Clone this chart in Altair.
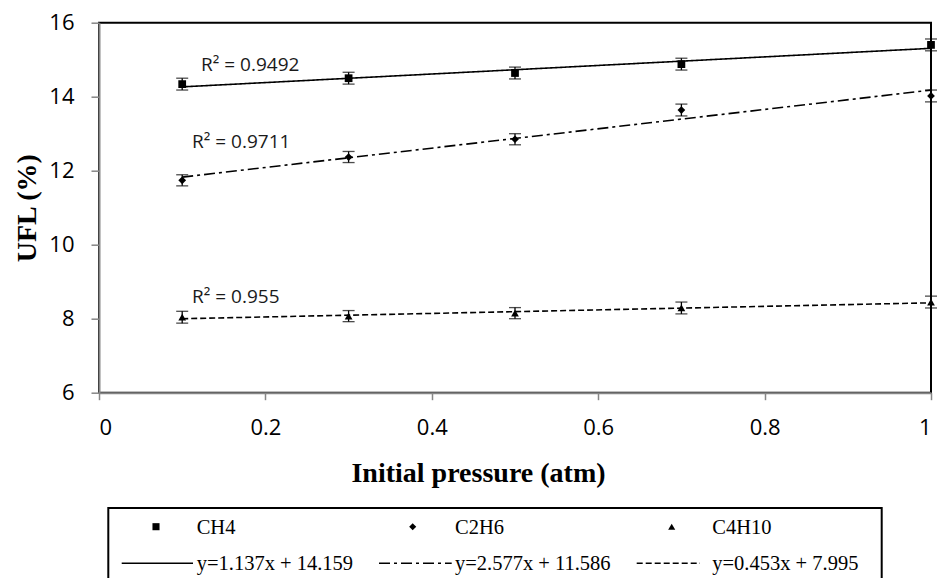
import altair as alt
import pandas as pd

# ---- data ----
pressure = [0.1, 0.3, 0.5, 0.7, 1.0]
ufl_ch4 = [14.34, 14.50, 14.64, 14.88, 15.40]
ufl_c2h6 = [11.74, 12.37, 12.85, 13.64, 14.02]
ufl_c4h10 = [8.04, 8.07, 8.15, 8.29, 8.45]
err_ch4 = [0.16, 0.16, 0.16, 0.16, 0.16]
err_c2h6 = [0.15, 0.15, 0.15, 0.16, 0.16]
err_c4h10 = [0.16, 0.15, 0.15, 0.16, 0.16]
gases = ["CH4", "C2H6", "C4H10"]
r2_labels = ["R\u00b2 = 0.9492", "R\u00b2 = 0.9711", "R\u00b2 = 0.955"]
fit_labels = ["y=1.137x + 14.159", "y=2.577x + 11.586", "y=0.453x + 7.995"]
x_ticks = [0, 0.2, 0.4, 0.6, 0.8, 1]
y_ticks = [6, 8, 10, 12, 14, 16]

rows = []
for g, ys, es in zip(gases, [ufl_ch4, ufl_c2h6, ufl_c4h10], [err_ch4, err_c2h6, err_c4h10]):
    for p, y, e in zip(pressure, ys, es):
        rows.append({"gas": g, "p": p, "ufl": y, "lo": y - e, "hi": y + e})
df = pd.DataFrame(rows)

W, H = 832, 370
LEFT, TOP = 99, 22.7

AX_GRAY = "#868686"
SANS = "Open Sans"
SERIF = "Liberation Serif"

x_axis = alt.Axis(values=x_ticks, title="Initial pressure (atm)", labelExpr="'' + datum.value",
                  grid=False)
y_axis = alt.Axis(values=y_ticks, title="UFL (%)", grid=False)


def X(field):
    return alt.X(f"{field}:Q", scale=alt.Scale(domain=[0, 1]), axis=x_axis)


def Y(field):
    return alt.Y(f"{field}:Q", scale=alt.Scale(domain=[6, 16]), axis=y_axis)


base = alt.Chart(df)

shape_scale = alt.Scale(domain=gases, range=["square", "diamond", "triangle-up"])
dash_scale = alt.Scale(domain=gases, range=[[1, 0], [11, 4, 3, 4], [6, 3]])

trend = base.transform_regression("p", "ufl", groupby=["gas"]).mark_line(
    color="black", strokeWidth=1.6
).encode(
    x=X("p"), y=Y("ufl"),
    strokeDash=alt.StrokeDash("gas:N", scale=dash_scale, legend=None),
    detail="gas:N",
)

err_rule = base.mark_rule(color="black", strokeWidth=1.3).encode(
    x=X("p"), y=Y("lo"), y2="hi:Q"
)
err_lo = base.mark_tick(color="black", orient="horizontal", size=12, thickness=1.3).encode(
    x=X("p"), y=Y("lo")
)
err_hi = base.mark_tick(color="black", orient="horizontal", size=12, thickness=1.3).encode(
    x=X("p"), y=Y("hi")
)

pts = base.mark_point(filled=True, color="black", opacity=1, size=60).encode(
    x=X("p"), y=Y("ufl"),
    shape=alt.Shape("gas:N", scale=shape_scale, legend=None),
)

one = alt.Data(values=[{}])

layers = [trend, err_rule, err_lo, err_hi, pts]

# R² annotations (pixel positions relative to plot area)
r2_pos = [(102, 42.3), (93, 119), (93, 274)]
for lab, (px, py) in zip(r2_labels, r2_pos):
    layers.append(
        alt.Chart(one).mark_text(text=lab, font=SANS, fontSize=19, color="#1a1a1a",
                                 align="left", baseline="middle")
        .encode(x=alt.value(px), y=alt.value(py))
    )

# ---- custom legend box below the plot ----
layers.append(
    alt.Chart(one).mark_rect(fill=None, stroke="black", strokeWidth=2).encode(
        x=alt.value(9.3), x2=alt.value(782.7), y=alt.value(485.3), y2=alt.value(620)
    )
)
sym_x = [57, 313.7, 572.7]
sym_shapes = ["square", "diamond", "triangle-up"]
txt_x = [97.7, 356, 613.3]
row1_y = 504
row2_y = 540.6
for g, sx, shp, tx in zip(gases, sym_x, sym_shapes, txt_x):
    layers.append(
        alt.Chart(one).mark_point(shape=shp, filled=True, color="black", opacity=1, size=50)
        .encode(x=alt.value(sx), y=alt.value(row1_y))
    )
    layers.append(
        alt.Chart(one).mark_text(text=g, font=SERIF, fontSize=20.5, color="black",
                                 align="left", baseline="middle")
        .encode(x=alt.value(tx), y=alt.value(row1_y + 1))
    )
line_x = [(22.7, 94), (280, 352.7), (537.7, 601)]
dashes = [[1, 0], [11, 4, 3, 4], [6, 3]]
for lab, (x1, x2), d, tx in zip(fit_labels, line_x, dashes, txt_x):
    layers.append(
        alt.Chart(one).mark_rule(color="black", strokeWidth=1.6, strokeDash=d)
        .encode(x=alt.value(x1), x2=alt.value(x2), y=alt.value(row2_y))
    )
    layers.append(
        alt.Chart(one).mark_text(text=lab, font=SERIF, fontSize=20.5, color="black",
                                 align="left", baseline="middle")
        .encode(x=alt.value(tx), y=alt.value(row2_y + 1))
    )

chart = alt.layer(*layers).properties(
    width=W, height=H,
    autosize=alt.AutoSizeParams(type="none"),
    padding={"left": LEFT, "top": TOP, "right": 940 - LEFT - W, "bottom": 578 - TOP - H},
    background="white",
).configure_view(
    stroke="black", strokeWidth=2
).configure_axis(
    domainColor=AX_GRAY, domainWidth=2, tickColor=AX_GRAY, tickWidth=1.5,
    labelFont=SANS, labelFontSize=22, labelColor="black",
    titleFont=SERIF, titleFontWeight="bold", titleFontSize=28, titleColor="black",
).configure_axisX(
    tickSize=7, labelPadding=18, titleX=379, titleY=89, titleBaseline="alphabetic",
    titleAlign="center",
).configure_axisY(
    tickSize=8, labelPadding=17, titleX=-64, titleY=185, titleAngle=-90,
    titleBaseline="alphabetic", titleAlign="center",
)

chart.save("out.html", embed_options={"renderer": "svg", "actions": False})
